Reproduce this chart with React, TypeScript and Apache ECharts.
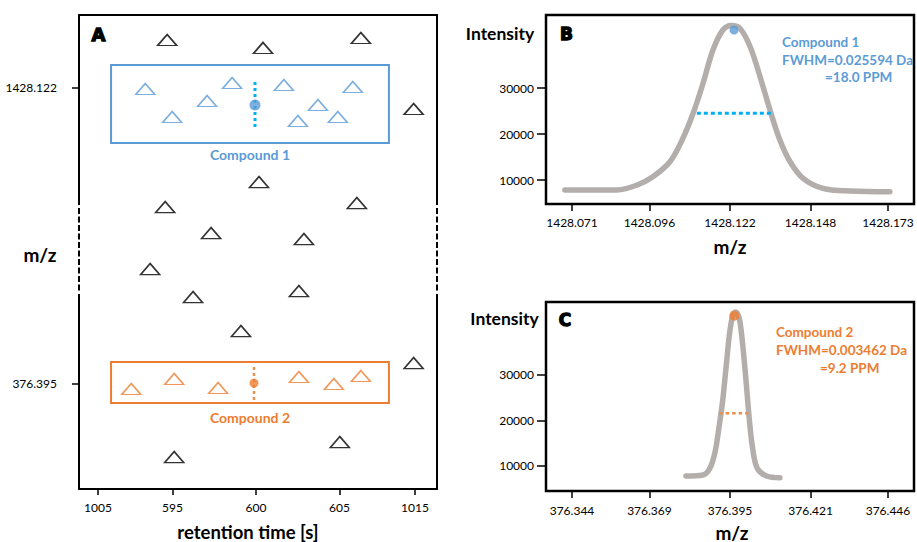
import React, { useEffect, useRef } from "react";
import * as echarts from "echarts";

const FONT = "Lato, 'Open Sans', 'DejaVu Sans', sans-serif";
const HEAVY = "'DejaVu Sans', 'Liberation Sans', sans-serif";
const BLUE = "#5b9bd5";
const CYAN = "#00b0f0";
const ORANGE = "#ed7d31";
const ORANGE_DOT = "#e8904e";
const GREY = "#b3aeab";

// Panel A: retention time / m/z map (schematic, broken axes)
const rtTickValues = [590.54, 595, 600, 605, 609.52];
const rtTickLabels = ["1005", "595", "600", "605", "1015"];
const mzTickValuesA = [376.395, 1428.122];

const backgroundIons: number[][] = [
  [594.68, 1598.7], [600.42, 1570.3], [606.28, 1605.8], [609.44, 1353.5],
  [600.18, 1094.0], [594.56, 1005.2], [606.04, 1019.4], [597.31, 912.8],
  [602.87, 891.5], [593.66, 784.9], [596.23, 685.4], [602.57, 706.7],
  [599.10, 564.6], [609.44, 450.8], [605.02, 170.1], [595.10, 116.8],
];
const compound1Ions: number[][] = [
  [593.37, 1424.6], [594.98, 1325.1], [597.07, 1381.9], [598.57, 1445.9],
  [601.67, 1438.8], [602.51, 1310.8], [603.71, 1367.7], [604.90, 1325.1],
  [605.80, 1431.7],
];
const compound2Ions: number[][] = [
  [592.53, 358.5], [595.10, 394.0], [597.73, 362.0], [602.57, 401.1],
  [604.66, 376.2], [606.28, 404.7],
];
const compound1Apex: number[][] = [[599.94, 1367.7]];
const compound2Apex: number[][] = [[599.88, 379.8]];
const compound1RtLine: number[][] = [[599.94, 1449.4], [599.94, 1282.4]];
const compound2RtLine: number[][] = [[599.88, 436.8], [599.88, 319.5]];
const compound1Box: number[][] = [[591.32, 1509.8], [607.96, 1232.7]];
const compound2Box: number[][] = [[591.32, 454.6], [607.96, 308.9]];

// Panel B / C: peak profiles
const mzTicksB = [1428.071, 1428.096, 1428.122, 1428.148, 1428.173];
const mzTicksC = [376.344, 376.369, 376.395, 376.421, 376.446];
const intensityTicks = [10000, 20000, 30000];

const peakB: number[][] = [
  [1428.0687, 7826], [1428.0855, 7826], [1428.0920, 8913], [1428.0971, 10717],
  [1428.1026, 13978], [1428.1068, 19065], [1428.1101, 24500], [1428.1133, 31022],
  [1428.1165, 38261], [1428.1197, 42609], [1428.1225, 43587], [1428.1252, 42978],
  [1428.1285, 38978], [1428.1317, 32457], [1428.1349, 25217], [1428.1381, 18696],
  [1428.1414, 13978], [1428.1456, 10370], [1428.1520, 8196], [1428.1607, 7609],
  [1428.1736, 7457],
];
const apexB: number[][] = [[1428.1233, 42609]];
const halfMaxB: number[][] = [[1428.1113, 24500], [1428.1356, 24500]];

const peakC: number[][] = [
  [376.3808, 7802], [376.3863, 8022], [376.3885, 9495], [376.3902, 13143],
  [376.3914, 18286], [376.3926, 24132], [376.3937, 31473], [376.3948, 38791],
  [376.3959, 43187], [376.3968, 43846], [376.3980, 42462], [376.3991, 36593],
  [376.4002, 28527], [376.4012, 20484], [376.4023, 13890], [376.4038, 9495],
  [376.4068, 7802], [376.4111, 7429],
];
const apexC: number[][] = [[376.3964, 43033]];
const halfMaxC: number[][] = [[376.3915, 21582], [376.4009, 21582]];

const compound1Text = ["Compound 1", "FWHM=0.025594 Da", "=18.0 PPM"];
const compound2Text = ["Compound 2", "FWHM=0.003462 Da", "=9.2 PPM"];

function txt(text: string, x: number, y: number, size: number, weight: any, color = "#000", align = "center", family = FONT, strokeW = 0) {
  const style: any = {
    text,
    fill: color,
    fontSize: size,
    fontWeight: weight,
    fontFamily: family,
    align,
    textAlign: align,
    verticalAlign: "middle",
    textVerticalAlign: "middle",
  };
  if (strokeW > 0) {
    style.stroke = color;
    style.lineWidth = strokeW;
  }
  return { type: "text", x, y, silent: true, style };
}

function vline(x: number, y1: number, y2: number, dashed: boolean) {
  return {
    type: "line",
    silent: true,
    shape: { x1: x, y1, x2: x, y2 },
    style: { stroke: "#000", lineWidth: 2, lineDash: dashed ? [6, 2.5] : null },
  };
}

const tickLabel = { fontSize: 12, color: "#000", fontFamily: FONT };

export default function App() {
  const ref = useRef<HTMLDivElement>(null);
  useEffect(() => {
    document.body.style.margin = "0";
    if (!ref.current) return;
    const chart = echarts.init(ref.current, null, { renderer: "svg" });
    const option: any = {
      animation: false,
      backgroundColor: "#fff",
      grid: [
        { left: 79, top: 15, width: 358, height: 474 },
        { left: 546, top: 15, width: 368, height: 189, show: true, borderColor: "#000", borderWidth: 2.5 },
        { left: 546, top: 302, width: 368, height: 189, show: true, borderColor: "#000", borderWidth: 2.5 },
      ],
      xAxis: [
        {
          type: "value", gridIndex: 0, min: 589.4, max: 610.84,
          axisLine: { show: true, onZero: false, lineStyle: { color: "#000", width: 2 } },
          axisTick: { show: true, customValues: rtTickValues, length: 6, lineStyle: { color: "#000", width: 1.5 } },
          axisLabel: {
            ...tickLabel, margin: 12, customValues: rtTickValues,
            formatter: (v: number) => {
              const i = rtTickValues.findIndex((t) => Math.abs(t - v) < 1e-6);
              return i >= 0 ? rtTickLabels[i] : "";
            },
          },
          splitLine: { show: false },
        },
        {
          type: "value", gridIndex: 1, min: 1428.062607, max: 1428.181393,
          axisLine: { show: false },
          axisTick: { show: true, customValues: mzTicksB, length: 7, lineStyle: { color: "#000", width: 1.5 } },
          axisLabel: { ...tickLabel, margin: 12, customValues: mzTicksB, formatter: (v: number) => v.toFixed(3) },
          splitLine: { show: false },
        },
        {
          type: "value", gridIndex: 2, min: 376.335607, max: 376.454393,
          axisLine: { show: false },
          axisTick: { show: true, customValues: mzTicksC, length: 7, lineStyle: { color: "#000", width: 1.5 } },
          axisLabel: { ...tickLabel, margin: 13, customValues: mzTicksC, formatter: (v: number) => v.toFixed(3) },
          splitLine: { show: false },
        },
      ],
      yAxis: [
        {
          type: "value", gridIndex: 0, min: 3.31, max: 1687.5,
          axisLine: { show: false },
          axisTick: { show: true, customValues: mzTickValuesA, length: 7, lineStyle: { color: "#000", width: 1.5 } },
          axisLabel: { ...tickLabel, margin: 22, customValues: mzTickValuesA, formatter: (v: number) => v.toFixed(3) },
          splitLine: { show: false },
        },
        {
          type: "value", gridIndex: 1, min: 4783, max: 45870,
          axisLine: { show: false },
          axisTick: { show: true, customValues: intensityTicks, length: 9, lineStyle: { color: "#000", width: 1.5 } },
          axisLabel: { ...tickLabel, margin: 12, customValues: intensityTicks, formatter: (v: number) => String(v) },
          splitLine: { show: false },
        },
        {
          type: "value", gridIndex: 2, min: 4505, max: 46044,
          axisLine: { show: false },
          axisTick: { show: true, customValues: intensityTicks, length: 9, lineStyle: { color: "#000", width: 1.5 } },
          axisLabel: { ...tickLabel, margin: 12, customValues: intensityTicks, formatter: (v: number) => String(v) },
          splitLine: { show: false },
        },
      ],
      series: [
        {
          type: "scatter", xAxisIndex: 0, yAxisIndex: 0, data: backgroundIons, silent: true,
          symbol: "triangle", symbolSize: [19, 11],
          itemStyle: { color: "rgba(255,255,255,0)", borderColor: "#000", borderWidth: 1.6 },
        },
        {
          type: "scatter", xAxisIndex: 0, yAxisIndex: 0, data: compound1Ions, silent: true,
          symbol: "triangle", symbolSize: [19, 11],
          itemStyle: { color: "rgba(255,255,255,0)", borderColor: BLUE, borderWidth: 1.5 },
          markArea: {
            silent: true,
            itemStyle: { color: "rgba(0,0,0,0)", borderColor: BLUE, borderWidth: 2 },
            label: { show: true, position: "bottom", distance: 4, color: BLUE, fontWeight: "bold", fontSize: 14, fontFamily: FONT },
            data: [[{ name: "Compound 1", coord: compound1Box[0] }, { coord: compound1Box[1] }]],
          },
        },
        {
          type: "scatter", xAxisIndex: 0, yAxisIndex: 0, data: compound2Ions, silent: true,
          symbol: "triangle", symbolSize: [19, 11],
          itemStyle: { color: "rgba(255,255,255,0)", borderColor: ORANGE, borderWidth: 1.5 },
          markArea: {
            silent: true,
            itemStyle: { color: "rgba(0,0,0,0)", borderColor: ORANGE, borderWidth: 2 },
            label: { show: true, position: "bottom", distance: 7, color: ORANGE, fontWeight: "bold", fontSize: 14, fontFamily: FONT },
            data: [[{ name: "Compound 2", coord: compound2Box[0] }, { coord: compound2Box[1] }]],
          },
        },
        {
          type: "line", xAxisIndex: 0, yAxisIndex: 0, data: compound1RtLine, symbol: "none", silent: true,
          lineStyle: { color: CYAN, width: 3, type: [3, 3] }, z: 3,
        },
        {
          type: "line", xAxisIndex: 0, yAxisIndex: 0, data: compound2RtLine, symbol: "none", silent: true,
          lineStyle: { color: ORANGE_DOT, width: 2.5, type: [3, 3] }, z: 3,
        },
        {
          type: "scatter", xAxisIndex: 0, yAxisIndex: 0, data: compound1Apex, silent: true,
          symbol: "circle", symbolSize: 11, itemStyle: { color: BLUE }, z: 4,
        },
        {
          type: "scatter", xAxisIndex: 0, yAxisIndex: 0, data: compound2Apex, silent: true,
          symbol: "circle", symbolSize: 9, itemStyle: { color: ORANGE }, z: 4,
        },
        // Panel B
        {
          type: "line", xAxisIndex: 1, yAxisIndex: 1, data: peakB, smooth: 0.35, symbol: "none", silent: true,
          lineStyle: { color: GREY, width: 5.5, cap: "round" },
        },
        {
          type: "line", xAxisIndex: 1, yAxisIndex: 1, data: halfMaxB, symbol: "none", silent: true,
          lineStyle: { color: CYAN, width: 3, type: [4, 3] }, z: 3,
        },
        {
          type: "scatter", xAxisIndex: 1, yAxisIndex: 1, data: apexB, silent: true,
          symbol: "circle", symbolSize: 9, itemStyle: { color: BLUE }, z: 4,
        },
        // Panel C
        {
          type: "line", xAxisIndex: 2, yAxisIndex: 2, data: peakC, smooth: 0.35, symbol: "none", silent: true,
          lineStyle: { color: GREY, width: 5.5, cap: "round" },
        },
        {
          type: "line", xAxisIndex: 2, yAxisIndex: 2, data: halfMaxC, symbol: "none", silent: true,
          lineStyle: { color: ORANGE_DOT, width: 2.5, type: [3.5, 3] }, z: 3,
        },
        {
          type: "scatter", xAxisIndex: 2, yAxisIndex: 2, data: apexC, silent: true,
          symbol: "circle", symbolSize: 10, itemStyle: { color: ORANGE }, z: 4,
        },
      ],
      graphic: [
        // Panel A frame (broken axis)
        { type: "line", silent: true, shape: { x1: 78, y1: 15, x2: 438, y2: 15 }, style: { stroke: "#000", lineWidth: 2 } },
        vline(79, 14, 205, false),
        vline(79, 208, 292, true),
        vline(79, 294, 490, false),
        vline(437, 14, 205, false),
        vline(437, 208, 292, true),
        vline(437, 294, 490, false),
        // Titles
        txt("A", 98.5, 34.5, 18, "bold", "#000", "center", HEAVY, 1.3),
        txt("m/z", 40, 254, 19, "bold"),
        txt("retention time [s]", 248, 532, 18.5, "bold"),
        txt("Intensity", 500, 33, 17.5, "bold"),
        txt("B", 566.5, 33.5, 17, "bold", "#000", "center", HEAVY, 1.3),
        txt("m/z", 730, 246, 19, "bold"),
        txt("Intensity", 504.5, 318, 17.5, "bold"),
        txt("C", 565, 320, 17, "bold", "#000", "center", HEAVY, 1.3),
        txt("m/z", 732, 532, 19, "bold"),
        // Annotations
        txt(compound1Text[0], 782, 42, 13.5, "bold", BLUE, "left"),
        txt(compound1Text[1], 782, 59.5, 13.5, "bold", BLUE, "left"),
        txt(compound1Text[2], 825, 77, 13.5, "bold", BLUE, "left"),
        txt(compound2Text[0], 776, 332, 13.5, "bold", ORANGE, "left"),
        txt(compound2Text[1], 776, 350, 13.5, "bold", ORANGE, "left"),
        txt(compound2Text[2], 820, 368, 13.5, "bold", ORANGE, "left"),
      ],
    };
    chart.setOption(option);
    return () => chart.dispose();
  }, []);
  return <div ref={ref} style={{ width: 917, height: 542 }} />;
}
